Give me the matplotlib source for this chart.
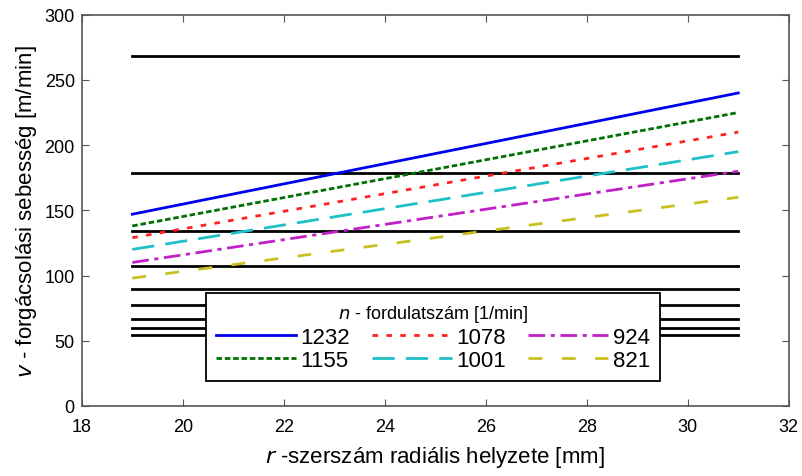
import numpy as np
import matplotlib.pyplot as plt

plt.rcParams['font.family'] = ['Liberation Sans', 'DejaVu Sans']

# sugar (r) tartomany, mm
r_pontok = [19, 31]

# forgacsolasi sebesseg a fordulatszamoknal [m/min]
fordulatszam = ['1232', '1155', '1078', '1001', '924', '821']
v_1232 = [147, 240]
v_1155 = [138, 225]
v_1078 = [129, 210]
v_1001 = [120, 195]
v_924 = [110, 180]
v_821 = [98, 160]

# vizszintes hatarvonalak [m/min]
hatarok = [268, 179, 134, 107, 90, 77, 67, 60, 54]

fig = plt.figure(figsize=(8.02, 4.77), dpi=100)
ax = fig.add_axes([0.102, 0.147, 0.8815, 0.820])

for h in hatarok:
    ax.plot(r_pontok, [h, h], color='black', lw=2)

vonalak = []
vonalak.append(ax.plot(r_pontok, v_1232, color='#0000ee', lw=2, ls='-')[0])
vonalak.append(ax.plot(r_pontok, v_1155, color='#007000', lw=2, ls=(0, (2, 1)))[0])
vonalak.append(ax.plot(r_pontok, v_1078, color='#ff2020', lw=2, ls=(0, (2, 3)))[0])
vonalak.append(ax.plot(r_pontok, v_1001, color='#20c0c8', lw=2, ls=(0, (8, 4)))[0])
vonalak.append(ax.plot(r_pontok, v_924, color='#c020c8', lw=2, ls=(0, (6, 2, 1.5, 2)))[0])
vonalak.append(ax.plot(r_pontok, v_821, color='#c8c020', lw=2, ls=(0, (5, 7)))[0])

ax.set_xlim(18, 32)
ax.set_ylim(0, 300)
ax.set_xticks(np.arange(18, 33, 2))
ax.set_yticks(np.arange(0, 301, 50))
ax.tick_params(axis='both', direction='in', top=True, right=True, labelsize=13,
               length=5, color='#555555')
ax.tick_params(axis='x', pad=9)
ax.tick_params(axis='y', pad=5)
for s in ax.spines.values():
    s.set_linewidth(1.2)
    s.set_color('#555555')

ax.set_xlabel('$\\mathit{r}$ -szerszám radiális helyzete [mm]', fontsize=16, labelpad=6)
ax.set_ylabel('$\\mathit{v}$ - forgácsolási sebesség [m/min]', fontsize=16)

leg = ax.legend(vonalak, fordulatszam, ncol=3, loc='lower left',
                bbox_to_anchor=(0.175, 0.064), borderaxespad=0, fontsize=16,
                title='$\\mathit{n}$ - fordulatszám [1/min]', title_fontsize=13,
                handlelength=3.6, handletextpad=0.2, columnspacing=1.0,
                labelspacing=0.1, fancybox=False, edgecolor='black',
                framealpha=1, borderpad=0.45)
leg.get_frame().set_linewidth(1.3)

fig.savefig('out.png', dpi=100)
